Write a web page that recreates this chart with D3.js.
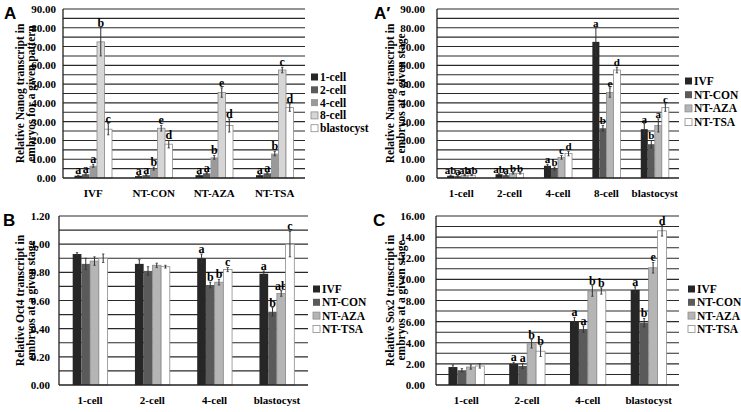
<!DOCTYPE html>
<html>
<head>
<meta charset="utf-8">
<script src="https://cdn.jsdelivr.net/npm/d3@7"></script>
<style>
  body { margin: 0; background: #fff; }
</style>
</head>
<body>
<div id="canvas"></div>
<script>
// ---- data ----
const stages = ['1-cell', '2-cell', '4-cell', '8-cell', 'blastocyst'];
const groups = ['IVF', 'NT-CON', 'NT-AZA', 'NT-TSA'];

// Nanog, rows = groups, columns = stages
const nanogMean = [
    [1.2, 2.0, 6.5, 72.5, 26.0],
    [1.0, 1.5, 5.0, 26.5, 18.0],
    [1.5, 2.5, 11.0, 45.5, 28.0],
    [1.5, 2.5, 13.0, 57.5, 37.5]
];
const nanogErr = [
    [0.3, 0.3, 0.8, 7.5, 3.0],
    [0.3, 0.3, 0.8, 1.5, 2.0],
    [0.3, 0.4, 1.0, 2.5, 3.5],
    [0.3, 0.4, 1.2, 1.5, 2.0]
];
// letters for panel A (rows = groups, columns = stages)
const lettersA = [
    ['a', 'a', 'a', 'b', 'c'],
    ['a', 'a', 'b', 'e', 'd'],
    ['a', 'a', 'b', 'e', 'd'],
    ['a', 'a', 'b', 'c', 'd']
];
// letters for panel A' (rows = stages, columns = groups)
const lettersA2 = [
    ['ab', 'a', 'ab', 'ab'],
    ['ab', 'a', 'b', 'b'],
    ['a', 'b', 'c', 'd'],
    ['a', 'b', 'e', 'd'],
    ['a', 'b', 'a', 'c']
];

const stages4 = ['1-cell', '2-cell', '4-cell', 'blastocyst'];
// Oct4, rows = groups, columns = stages4
const oct4Mean = [
    [0.93, 0.86, 0.90, 0.79],
    [0.86, 0.81, 0.71, 0.52],
    [0.88, 0.85, 0.73, 0.65],
    [0.90, 0.84, 0.82, 1.00]
];
const oct4Err = [
    [0.01, 0.03, 0.03, 0.02],
    [0.04, 0.03, 0.02, 0.03],
    [0.03, 0.015, 0.02, 0.02],
    [0.03, 0.01, 0.015, 0.09]
];
const lettersB = [
    ['', '', '', ''],
    ['', '', '', ''],
    ['a', 'b', 'b', 'c'],
    ['a', 'b', 'ab', 'c']
];
// Sox2, rows = groups, columns = stages4
const sox2Mean = [
    [1.7, 2.0, 6.0, 9.0],
    [1.4, 1.8, 5.3, 5.9],
    [1.7, 3.9, 8.9, 11.1],
    [1.8, 3.2, 8.9, 14.6]
];
const sox2Err = [
    [0.2, 0.15, 0.4, 0.3],
    [0.15, 0.25, 0.3, 0.4],
    [0.2, 0.4, 0.5, 0.5],
    [0.2, 0.5, 0.3, 0.5]
];
const lettersC = [
    ['', '', '', ''],
    ['a', 'a', 'b', 'b'],
    ['a', 'a', 'b', 'b'],
    ['a', 'b', 'e', 'd']
];

const stageColors = ['#262626', '#5a5a5a', '#9a9a9a', '#d6d6d6', '#ffffff'];
const groupColors = ['#262626', '#5a5a5a', '#b5b5b5', '#ffffff'];

// pick the first serif face that is really installed
function pickFont(list, fallback){
    let ctx = document.createElement('canvas').getContext('2d');
    let probe = 'abcdefghijklmnopqrstuvwxyz 0123456789.-';
    ctx.font = 'bold 40px monospace';
    let base = ctx.measureText(probe).width;
    for(let f of list){
        ctx.font = 'bold 40px "' + f + '", monospace';
        if(Math.abs(ctx.measureText(probe).width - base) > 0.5) return '"' + f + '"';
    }
    return fallback;
}
const SERIF = pickFont(['Liberation Serif', 'Tinos', 'Times New Roman', 'DejaVu Serif', 'Noto Serif', 'FreeSerif'], 'serif');
const SANS = '"Liberation Sans", Arial, sans-serif';

const W = 741, H = 412;
const svg = d3.select('#canvas').append('svg')
    .attr('width', W)
    .attr('height', H);

function transpose(m){
    return m[0].map((_, j) => m.map(r => r[j]));
}

function txt(sel, size){
    return sel.style('font-family', SERIF)
        .style('font-weight', 'bold')
        .style('font-size', size + 'px');
}

// cats = x categories, series = bars within a category
// vals[s][c] / errs[s][c] / letters[c][s]
function drawPanel(p){
    let g = svg.append('g');

    let y = d3.scaleLinear().domain([0, p.max]).range([p.bottom, p.top]);
    let x = d3.scaleBand().domain(p.cats).range([p.left, p.right])
        .paddingInner(p.pad).paddingOuter(p.pad / 2);
    let xi = d3.scaleBand().domain(p.series).range([0, x.bandwidth()]);

    // gridlines at each minor step
    let grid = d3.range(0, p.max + p.minor / 2, p.minor).slice(1);
    g.selectAll('.grid').data(grid).enter().append('line')
        .attr('x1', p.left).attr('x2', p.right)
        .attr('y1', d => y(d)).attr('y2', d => y(d))
        .attr('stroke', '#2a2a2a')
        .attr('stroke-width', 1.1);

    // y tick labels
    let ticks = d3.range(0, p.max + p.major / 2, p.major);
    txt(g.selectAll('.tick').data(ticks).enter().append('text'), 11)
        .text(d => d.toFixed(2))
        .attr('x', p.left - p.tickGap)
        .attr('y', d => y(d))
        .attr('text-anchor', 'end')
        .attr('dominant-baseline', 'central');

    // bars
    p.cats.forEach((c, ci) => {
        p.series.forEach((s, si) => {
            let v = p.vals[si][ci], e = p.errs[si][ci];
            let bx = x(c) + xi(s);
            let cx = bx + xi.bandwidth() / 2;
            g.append('rect')
                .attr('x', bx)
                .attr('y', y(v))
                .attr('width', xi.bandwidth())
                .attr('height', y(0) - y(v))
                .attr('fill', p.colors[si])
                .attr('stroke', si >= p.colors.length - 2 ? '#8c8c8c' : 'none')
                .attr('stroke-width', 0.8);
            g.append('line')
                .attr('x1', cx).attr('x2', cx)
                .attr('y1', y(v + e)).attr('y2', y(Math.max(0, v - e)))
                .attr('stroke', '#333').attr('stroke-width', 1);
            [v + e, v - e].forEach(t => {
                g.append('line')
                    .attr('x1', cx - 1.2).attr('x2', cx + 1.2)
                    .attr('y1', y(t)).attr('y2', y(t))
                    .attr('stroke', '#333').attr('stroke-width', 0.8);
            });
            let lt = p.letters[ci][si];
            if(lt){
                txt(g.append('text'), p.letterSize || 12)
                    .text(lt)
                    .attr('x', cx)
                    .attr('y', y(v + e) - 1)
                    .attr('text-anchor', 'middle');
            }
        });
    });

    // axes lines
    g.append('line')
        .attr('x1', p.left).attr('x2', p.left)
        .attr('y1', p.top).attr('y2', p.bottom)
        .attr('stroke', '#222').attr('stroke-width', 1.3);
    g.append('line')
        .attr('x1', p.left).attr('x2', p.right)
        .attr('y1', p.bottom).attr('y2', p.bottom)
        .attr('stroke', '#222').attr('stroke-width', 1.5);

    // category labels
    txt(g.selectAll('.cat').data(p.cats).enter().append('text'), 11)
        .text(d => d)
        .attr('x', d => x(d) + x.bandwidth() / 2)
        .attr('y', p.bottom + 19)
        .attr('text-anchor', 'middle');

    // y title, two lines
    let cy = (p.top + p.bottom) / 2;
    p.title.forEach((t, i) => {
        txt(g.append('text'), 11.5)
            .text(t)
            .attr('transform', 'translate(' + (p.titleX + i * 11) + ',' + cy + ') rotate(-90)')
            .attr('text-anchor', 'middle')
            .attr('dominant-baseline', 'central');
    });

    // panel label
    g.append('text')
        .text(p.label)
        .attr('x', p.labelX)
        .attr('y', p.top + 10)
        .style('font-family', SANS)
        .style('font-weight', 'bold')
        .style('font-size', '17px');

    // legend
    p.series.forEach((s, si) => {
        let ly = p.legY + si * p.legStep;
        g.append('rect')
            .attr('x', p.legX).attr('y', ly - 3.5)
            .attr('width', 7).attr('height', 7)
            .attr('fill', p.colors[si])
            .attr('stroke', '#8c8c8c')
            .attr('stroke-width', si >= p.colors.length - 2 ? 0.8 : 0);
        txt(g.append('text'), 11.5)
            .text(s)
            .attr('x', p.legX + 9)
            .attr('y', ly)
            .attr('dominant-baseline', 'central');
    });
}

// A: groups on x, stages as bars
drawPanel({
    label: 'A', labelX: 4,
    left: 63, right: 305, top: 9, bottom: 178,
    max: 90, major: 10, minor: 5, tickGap: 7, pad: 0.38,
    cats: groups, series: stages, colors: stageColors,
    vals: transpose(nanogMean), errs: transpose(nanogErr), letters: lettersA,
    title: ['Relative Nanog transcript in', 'embryos for a given pattern'], titleX: 20,
    legX: 311, legY: 77, legStep: 12.8
});

// A': stages on x, groups as bars
drawPanel({
    label: 'A\u2032', labelX: 374,
    left: 437, right: 679, top: 9, bottom: 178,
    max: 90, major: 10, minor: 5, tickGap: 12, pad: 0.42, letterSize: 11,
    cats: stages, series: groups, colors: groupColors,
    vals: nanogMean, errs: nanogErr, letters: lettersA2,
    title: ['Relative Nanog transcript in', 'embryos at a given stage'], titleX: 390,
    legX: 685, legY: 81, legStep: 13.7
});

drawPanel({
    label: 'B', labelX: 3,
    left: 59, right: 308, top: 216, bottom: 385,
    max: 1.2, major: 0.2, minor: 0.1, tickGap: 9, pad: 0.44,
    cats: stages4, series: groups, colors: groupColors,
    vals: oct4Mean, errs: oct4Err, letters: lettersB,
    title: ['Relative Oct4 transcript in', 'embryos at a given stage'], titleX: 20,
    legX: 313, legY: 289, legStep: 13.3
});

drawPanel({
    label: 'C', labelX: 373,
    left: 436, right: 679, top: 216, bottom: 385,
    max: 16, major: 2, minor: 1, tickGap: 11, pad: 0.41,
    cats: stages4, series: groups, colors: groupColors,
    vals: sox2Mean, errs: sox2Err, letters: lettersC,
    title: ['Relative Sox2 transcript in', 'embryos at a given stage'], titleX: 390,
    legX: 688, legY: 289, legStep: 13.3
});
</script>
</body>
</html>
